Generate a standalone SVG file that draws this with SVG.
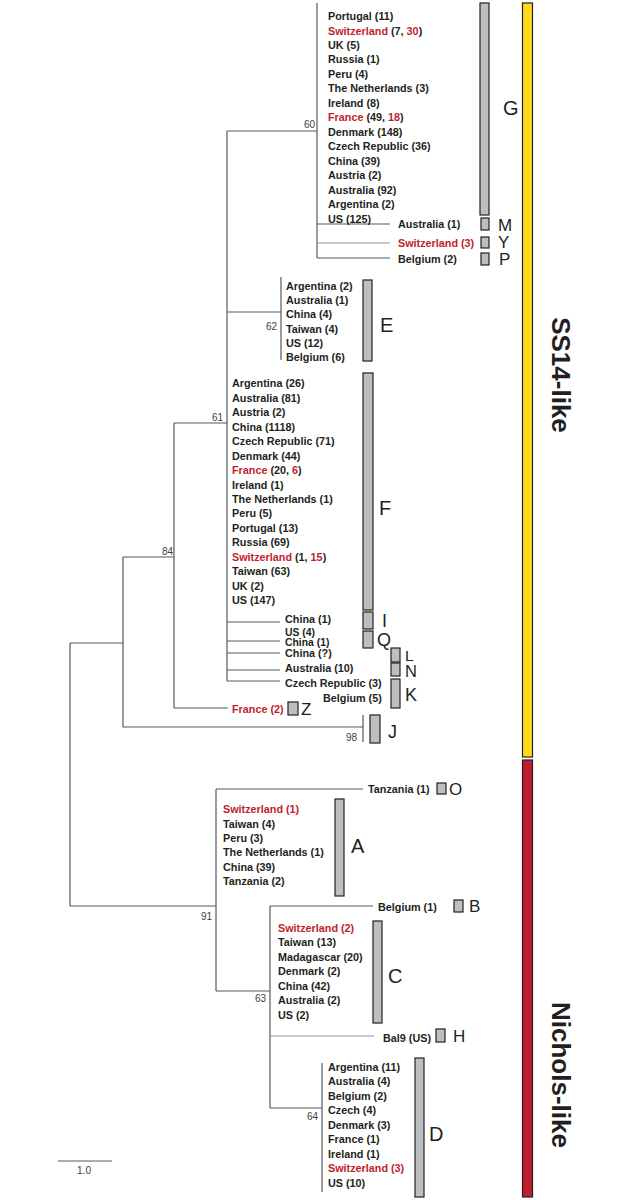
<svg xmlns="http://www.w3.org/2000/svg" width="629" height="1200" viewBox="0 0 629 1200">
<style>
.t{font-family:"Liberation Sans",Arial,sans-serif;font-weight:bold;font-size:10.8px;fill:#231f20}
.r{fill:#be1e2d}
.bs{font-family:"Liberation Sans",Arial,sans-serif;font-size:10px;fill:#414042;text-anchor:end}
.lb{font-family:"Liberation Sans",Arial,sans-serif;font-size:20px;fill:#231f20}
.lm{font-family:"Liberation Sans",Arial,sans-serif;font-size:17px;fill:#231f20}
.ls{font-family:"Liberation Sans",Arial,sans-serif;font-size:17px;fill:#231f20}
.bx{fill:#bcbec0;stroke:#231f20;stroke-width:1.2}
.ln{fill:none;stroke:#58595b;stroke-width:1.2}
.lt{fill:none;stroke:#939598;stroke-width:1.2}
.big{font-family:"Liberation Sans",Arial,sans-serif;font-weight:bold;font-size:26px;fill:#231f20}
</style>
<rect width="629" height="1200" fill="#fff"/>
<g id="connectors">
<path class="ln" d="M70,643V906M70,643H123M123,557V727M123,557H174M123,727H363M363,715V742M174,423V708M174,423H227M174,708H228M227,131V681M227,131H317M227,312H281M317,3V258M317,224H390M317,258H390M281,277V360M227,622H280M227,641H280M227,653H280M227,670H280M227,681H280M70,906H216M216,789V991M216,789H363M216,991H270M270,906V1108M270,906H373M270,1108H322M322,1063V1192"/>
<path class="lt" d="M317,243H390M270,1036H374"/>
</g>
<g id="bootstrap">
<text class="bs" x="315" y="128">60</text>
<text class="bs" x="277" y="330">62</text>
<text class="bs" x="223" y="421">61</text>
<text class="bs" x="173" y="555">84</text>
<text class="bs" x="357" y="741">98</text>
<text class="bs" x="212" y="920">91</text>
<text class="bs" x="266" y="1002">63</text>
<text class="bs" x="318" y="1120">64</text>
</g>
<g id="clade-G">
<text class="t" x="328" y="20">Portugal (11)</text>
<text class="t" x="328" y="34.5"><tspan class="r">Switzerland</tspan> (7, <tspan class="r">30</tspan>)</text>
<text class="t" x="328" y="49">UK (5)</text>
<text class="t" x="328" y="63.4">Russia (1)</text>
<text class="t" x="328" y="77.9">Peru (4)</text>
<text class="t" x="328" y="92.4">The Netherlands (3)</text>
<text class="t" x="328" y="106.9">Ireland (8)</text>
<text class="t" x="328" y="121.4"><tspan class="r">France</tspan> (49, <tspan class="r">18</tspan>)</text>
<text class="t" x="328" y="135.8">Denmark (148)</text>
<text class="t" x="328" y="150.3">Czech Republic (36)</text>
<text class="t" x="328" y="164.8">China (39)</text>
<text class="t" x="328" y="179.3">Austria (2)</text>
<text class="t" x="328" y="193.8">Australia (92)</text>
<text class="t" x="328" y="208.2">Argentina (2)</text>
<text class="t" x="328" y="222.7">US (125)</text>
<rect class="bx" x="480" y="3" width="9" height="212"/>
<text class="lb" x="503" y="114.5">G</text>
</g>
<g id="clade-M">
<text class="t" x="398" y="228.3">Australia (1)</text>
<rect class="bx" x="481" y="218" width="8" height="12"/>
<text class="lm" x="498" y="230.5">M</text>
</g>
<g id="clade-Y">
<text class="t r" x="398" y="246.7">Switzerland (3)</text>
<rect class="bx" x="481" y="237" width="8" height="11"/>
<text class="lm" x="498" y="248">Y</text>
</g>
<g id="clade-P">
<text class="t" x="398" y="262.7">Belgium (2)</text>
<rect class="bx" x="481" y="253" width="8" height="12"/>
<text class="lm" x="499" y="265">P</text>
</g>
<g id="clade-E">
<text class="t" x="286" y="290">Argentina (2)</text>
<text class="t" x="286" y="304.2">Australia (1)</text>
<text class="t" x="286" y="318.3">China (4)</text>
<text class="t" x="286" y="332.5">Taiwan (4)</text>
<text class="t" x="286" y="346.6">US (12)</text>
<text class="t" x="286" y="360.8">Belgium (6)</text>
<rect class="bx" x="363" y="280" width="9" height="81"/>
<text class="lb" x="380" y="332">E</text>
</g>
<g id="clade-F">
<text class="t" x="232" y="387.3">Argentina (26)</text>
<text class="t" x="232" y="401.8">Australia (81)</text>
<text class="t" x="232" y="416.2">Austria (2)</text>
<text class="t" x="232" y="430.7">China (1118)</text>
<text class="t" x="232" y="445.1">Czech Republic (71)</text>
<text class="t" x="232" y="459.6">Denmark (44)</text>
<text class="t" x="232" y="474"><tspan class="r">France</tspan> (20, <tspan class="r">6</tspan>)</text>
<text class="t" x="232" y="488.5">Ireland (1)</text>
<text class="t" x="232" y="502.9">The Netherlands (1)</text>
<text class="t" x="232" y="517.4">Peru (5)</text>
<text class="t" x="232" y="531.8">Portugal (13)</text>
<text class="t" x="232" y="546.3">Russia (69)</text>
<text class="t" x="232" y="560.7"><tspan class="r">Switzerland</tspan> (1, <tspan class="r">15</tspan>)</text>
<text class="t" x="232" y="575.2">Taiwan (63)</text>
<text class="t" x="232" y="589.6">UK (2)</text>
<text class="t" x="232" y="604.1">US (147)</text>
<rect class="bx" x="363" y="373" width="10" height="237"/>
<text class="lb" x="379" y="515">F</text>
</g>
<g id="clade-I">
<text class="t" x="285" y="623">China (1)</text>
<rect class="bx" x="363" y="612" width="10" height="17"/>
<text class="ls" x="382" y="627" style="font-size:18px">I</text>
</g>
<g id="clade-Q">
<text class="t" x="285" y="636.2" style="font-size:10.4px">US (4)</text>
<text class="t" x="285" y="646" style="font-size:10.4px">China (1)</text>
<rect class="bx" x="363" y="631" width="10" height="17"/>
<text class="ls" x="377" y="646" style="font-size:18px">Q</text>
</g>
<g id="clade-L">
<text class="t" x="285" y="657.3">China (?)</text>
<rect class="bx" x="391" y="648" width="9" height="14"/>
<text class="ls" x="405" y="660.5" style="font-size:15.5px">L</text>
</g>
<g id="clade-N">
<text class="t" x="285" y="672.3">Australia (10)</text>
<rect class="bx" x="391" y="663" width="9" height="13"/>
<text class="ls" x="405" y="676.5" style="font-size:16.5px">N</text>
</g>
<g id="clade-K">
<text class="t" x="285" y="686.7">Czech Republic (3)</text>
<text class="t" x="323" y="701.7">Belgium (5)</text>
<rect class="bx" x="391" y="679" width="9" height="29"/>
<text class="ls" x="405" y="701" style="font-size:18px">K</text>
</g>
<g id="clade-Z">
<text class="t r" x="232" y="713.3">France (2)</text>
<rect class="bx" x="288" y="702" width="10" height="13"/>
<text class="ls" x="301" y="715">Z</text>
</g>
<g id="clade-J">
<rect class="bx" x="370" y="715" width="10" height="28"/>
<text class="ls" x="388" y="738" style="font-size:18px">J</text>
</g>
<g id="clade-O">
<text class="t" x="368" y="793">Tanzania (1)</text>
<rect class="bx" x="437" y="783" width="9" height="11"/>
<text class="ls" x="449" y="795">O</text>
</g>
<g id="clade-A">
<text class="t r" x="223" y="813.3">Switzerland (1)</text>
<text class="t" x="223" y="827.6">Taiwan (4)</text>
<text class="t" x="223" y="841.9">Peru (3)</text>
<text class="t" x="223" y="856.2">The Netherlands (1)</text>
<text class="t" x="223" y="870.5">China (39)</text>
<text class="t" x="223" y="884.8">Tanzania (2)</text>
<rect class="bx" x="335" y="799" width="9" height="97"/>
<text class="lb" x="351" y="853">A</text>
</g>
<g id="clade-B">
<text class="t" x="378" y="910.5">Belgium (1)</text>
<rect class="bx" x="454" y="900" width="9" height="12"/>
<text class="ls" x="469" y="912">B</text>
</g>
<g id="clade-C">
<text class="t r" x="278" y="931.7">Switzerland (2)</text>
<text class="t" x="278" y="946.2">Taiwan (13)</text>
<text class="t" x="278" y="960.8">Madagascar (20)</text>
<text class="t" x="278" y="975.3">Denmark (2)</text>
<text class="t" x="278" y="989.9">China (42)</text>
<text class="t" x="278" y="1004.4">Australia (2)</text>
<text class="t" x="278" y="1019">US (2)</text>
<rect class="bx" x="373" y="921" width="9" height="102"/>
<text class="lb" x="388" y="983">C</text>
</g>
<g id="clade-H">
<text class="t" x="383" y="1041.5">Bal9 (US)</text>
<rect class="bx" x="436" y="1029" width="9" height="13"/>
<text class="ls" x="453" y="1041.7">H</text>
</g>
<g id="clade-D">
<text class="t" x="328" y="1070.7">Argentina (11)</text>
<text class="t" x="328" y="1085.2">Australia (4)</text>
<text class="t" x="328" y="1099.7">Belgium (2)</text>
<text class="t" x="328" y="1114.2">Czech (4)</text>
<text class="t" x="328" y="1128.7">Denmark (3)</text>
<text class="t" x="328" y="1143.2">France (1)</text>
<text class="t" x="328" y="1157.7">Ireland (1)</text>
<text class="t r" x="328" y="1172.2">Switzerland (3)</text>
<text class="t" x="328" y="1186.7">US (10)</text>
<rect class="bx" x="415" y="1058" width="9" height="139"/>
<text class="lb" x="429" y="1141">D</text>
</g>
<g id="group-SS14">
<rect x="522.5" y="3" width="10" height="754" fill="#ffd91a" stroke="#231f20" stroke-width="1.2"/>
<text class="big" transform="translate(552,375) rotate(90)" text-anchor="middle">SS14-like</text>
</g>
<g id="group-Nichols">
<rect x="522.5" y="760" width="10" height="437" fill="#be1e2d" stroke="#231f20" stroke-width="1.2"/>
<text class="big" transform="translate(552,1075) rotate(90)" text-anchor="middle">Nichols-like</text>
</g>
<g id="scale">
<path class="ln" d="M58,1161H112"/>
<text x="84" y="1174" style="font-family:'Liberation Sans',Arial,sans-serif;font-size:10px;fill:#414042" text-anchor="middle">1.0</text>
</g>
</svg>
